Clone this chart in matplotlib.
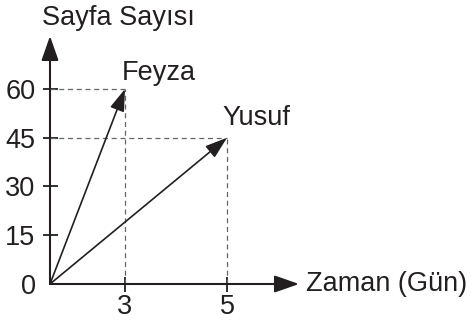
import numpy as np
import matplotlib.pyplot as plt

plt.rcParams['font.family'] = ['Liberation Sans', 'DejaVu Sans']

names = ['Feyza', 'Yusuf']
days = [3, 5]
pages = [60, 45]
y_ticks = [0, 15, 30, 45, 60]
x_ticks = [3, 5]

ink = '#231f20'
fs = 19.5

# the x axis of the sketch is not to scale: 3 sits closer than 5 would
knots_data = [0, 3, 5, 10]
knots_pix = [0, 75, 177, 432]


def fwd(x):
    return np.interp(x, knots_data, knots_pix)


def inv(p):
    return np.interp(p, knots_pix, knots_data)


fig = plt.figure(figsize=(4.73, 3.2), dpi=100)
ax = fig.add_axes([50 / 473, 36 / 320, 249 / 473, 248 / 320])
ax.set_xscale('function', functions=(fwd, inv))
ax.set_xlim(0, 6.41)
ax.set_ylim(0, 76.3)

for s in ax.spines.values():
    s.set_visible(False)

# axes with arrow heads
axis_arrow = dict(arrowstyle='-|>,head_length=1.0,head_width=0.35', color=ink,
                  lw=1.5, mutation_scale=15, shrinkA=0, shrinkB=0)
ax.annotate('', xy=(1, 0), xytext=(0, 0), xycoords='axes fraction',
            arrowprops=axis_arrow, annotation_clip=False)
ax.annotate('', xy=(0, 1), xytext=(0, 0), xycoords='axes fraction',
            arrowprops=axis_arrow, annotation_clip=False)

# dashed guide lines
for d, p in zip(days, pages):
    ax.plot([0, d], [p, p], ls=(0, (4, 3)), color='#666666', lw=0.9)
    ax.plot([d, d], [0, p], ls=(0, (4, 3)), color='#666666', lw=0.9)

# reading arrows
line_arrow = dict(arrowstyle='-|>,head_length=0.9,head_width=0.3', color=ink,
                  lw=1.2, mutation_scale=15, shrinkA=0, shrinkB=0)
label_offsets = [(-2, 11.5), (-3.5, 14.5)]
for name, d, p, off in zip(names, days, pages, label_offsets):
    ax.annotate('', xy=(d, p), xytext=(0, 0), arrowprops=line_arrow,
                annotation_clip=False)
    ax.annotate(name, xy=(d, p), xytext=off, textcoords='offset points',
                ha='left', va='center', fontsize=fs, color=ink)

ax.set_yticks(y_ticks)
ax.set_xticks(x_ticks)
ax.set_xticks([], minor=True)
ax.set_xticklabels([str(v) for v in x_ticks])
ax.set_yticklabels([str(v) for v in y_ticks])
ax.tick_params(axis='both', direction='inout', length=10.8, width=1.3,
               color=ink, labelcolor=ink, labelsize=fs)
ax.tick_params(axis='y', pad=5)
ax.tick_params(axis='x', pad=2)
ax.yaxis.get_major_ticks()[0].tick1line.set_visible(False)

ax.text(-8 / 249, 1 + 18 / 248, 'Sayfa Sayısı', transform=ax.transAxes,
        ha='left', va='center', fontsize=fs, color=ink)
ax.text(1 + 7 / 249, 0, 'Zaman (Gün)', transform=ax.transAxes,
        ha='left', va='center', fontsize=fs, color=ink)

fig.savefig('out.png', dpi=100)
